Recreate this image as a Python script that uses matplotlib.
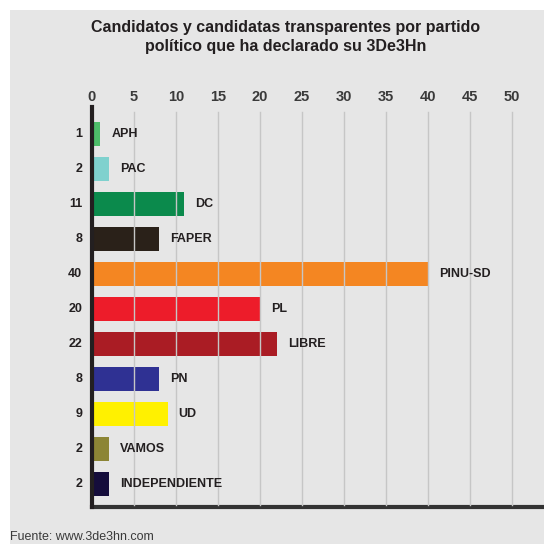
import matplotlib
matplotlib.use("Agg")
import matplotlib.pyplot as plt
from matplotlib.patches import Rectangle

# ---- data
partidos = ["APH", "PAC", "DC", "FAPER", "PINU-SD", "PL", "LIBRE", "PN", "UD", "VAMOS", "INDEPENDIENTE"]
valores = [1, 2, 11, 8, 40, 20, 22, 8, 9, 2, 2]
colores = ["#4dbd69", "#7fd1ce", "#0b8a4c", "#2a2119", "#f48622", "#ed1c2a",
           "#aa1c24", "#2f3193", "#fff100", "#8c8535", "#150d3b"]
ticks = [0, 5, 10, 15, 20, 25, 30, 35, 40, 45, 50]

titulo = "Candidatos y candidatas transparentes por partido\npolítico que ha declarado su 3De3Hn"
fuente = "Fuente: www.3de3hn.com"

plt.rcParams["font.family"] = ["Liberation Sans Narrow", "Liberation Sans", "DejaVu Sans"]

BG = "#e6e6e6"
INK = "#231f20"

fig = plt.figure(figsize=(5.44, 5.44), dpi=100, facecolor="white")
fig.patches.append(Rectangle((10 / 544, 0), 1, 1 - 10 / 544, transform=fig.transFigure,
                             facecolor=BG, edgecolor="none", zorder=-10))

ax = fig.add_axes([92 / 544, 37 / 544, 1 - 92 / 544, 400 / 544])
ax.set_facecolor("none")

ys = list(range(len(partidos)))
ax.barh(ys, valores, height=0.67, color=colores, zorder=2)

ax.set_xlim(0, 53.8)
ax.set_ylim(10.66, -0.77)

# grid on top of the bars, light
for t in ticks[1:]:
    ax.axvline(t, ymin=0.005, ymax=0.987, color="#c6c6c6", lw=1.0, zorder=3)

ax.xaxis.tick_top()
ax.set_xticks(ticks)
ax.set_xticklabels([str(t) for t in ticks], fontsize=10.5, fontweight="bold", color="#3a3a3a")
ax.tick_params(axis="x", length=0, pad=2.5)
ax.set_yticks([])

for s in ["top", "right"]:
    ax.spines[s].set_visible(False)
ax.spines["left"].set_linewidth(3)
ax.spines["left"].set_color(INK)
ax.spines["bottom"].set_linewidth(3)
ax.spines["bottom"].set_color("#333333")
ax.spines["left"].set_zorder(4)

for y, v, p in zip(ys, valores, partidos):
    ax.annotate(str(v), xy=(0, y), xytext=(-7, 0), textcoords="offset points",
                ha="right", va="center", fontsize=9, fontweight="bold", color=INK)
    ax.annotate(p, xy=(v, y), xytext=(8, 0), textcoords="offset points",
                ha="left", va="center", fontsize=9, fontweight="bold", color=INK)

fig.text(286 / 544, 1 - 37 / 544, titulo, ha="center", va="center", fontsize=11.5,
         fontweight="bold", color=INK, linespacing=1.4)
fig.text(10 / 544, 1 - 537 / 544, fuente, ha="left", va="center", fontsize=9, color="#3a3a3a")

fig.savefig("out.png", dpi=100, facecolor=fig.get_facecolor())
